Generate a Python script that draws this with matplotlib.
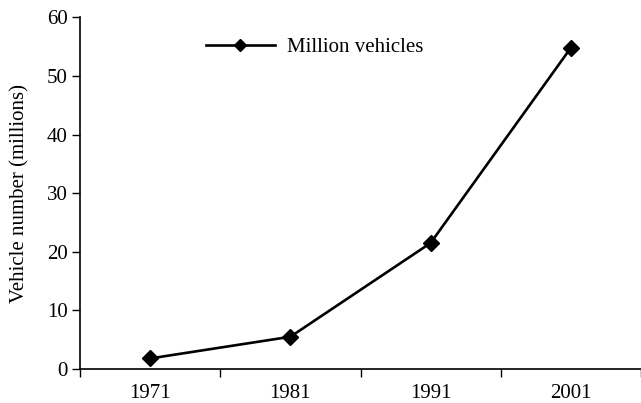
import matplotlib
matplotlib.use("Agg")
import matplotlib.pyplot as plt

years = ["1971", "1981", "1991", "2001"]
vehicles = [1.8, 5.5, 21.5, 54.8]
y_ticks = [0, 10, 20, 30, 40, 50, 60]

plt.rcParams['font.family'] = ['Liberation Serif', 'DejaVu Serif']
plt.rcParams['font.size'] = 15

fig = plt.figure(figsize=(6.41, 4.03), dpi=100)
ax = fig.add_axes([80/641, 1-369/403, 1-80/641, (369-17.3)/403])

x = list(range(len(years)))
ax.plot(x, vehicles, color='black', linewidth=1.9, marker='D', markersize=8.5,
        label='Million vehicles')

ax.set_xlim(-0.5, len(years) - 0.5)
ax.set_ylim(0, 60)
ax.set_yticks(y_ticks)
ax.set_xticks([i - 0.5 for i in range(len(years) + 1)])
ax.set_xticklabels([])
ax.set_xticks(x, minor=True)
ax.set_xticklabels(years, minor=True)
ax.tick_params(axis='x', which='minor', length=0, pad=11)
ax.tick_params(axis='x', which='major', length=6, width=1, direction='out')
ax.tick_params(axis='y', length=6, width=1, direction='out', pad=3)

for s in ['top', 'right']:
    ax.spines[s].set_visible(False)
for s in ['left', 'bottom']:
    ax.spines[s].set_linewidth(1.2)

ax.set_ylabel('Vehicle number (millions)', labelpad=12)

ax.legend(loc='upper left', bbox_to_anchor=(0.191, 0.996), frameon=False,
          handlelength=3.3, handletextpad=0.6, markerscale=0.75)

fig.savefig('out.png', dpi=100)
